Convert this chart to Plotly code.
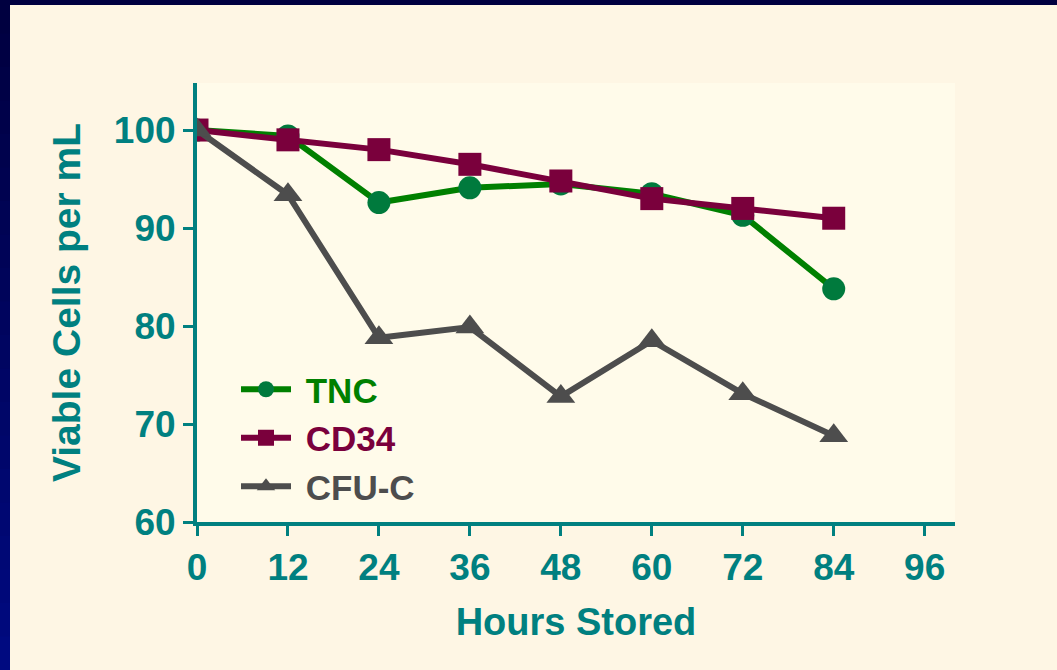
import plotly.graph_objects as go

# Storage time points (hours)
hours = [0, 12, 24, 36, 48, 60, 72, 84]

# Percent viable cells per mL for each population
tnc = [100.0, 99.4, 92.6, 94.1, 94.5, 93.5, 91.3, 83.8]
cd34 = [100.0, 99.0, 98.0, 96.5, 94.8, 93.0, 92.0, 91.0]
cfuc = [100.0, 93.4, 78.8, 79.9, 72.8, 78.5, 73.1, 68.8]

x_ticks = [0, 12, 24, 36, 48, 60, 72, 84, 96]
y_ticks = [60, 70, 80, 90, 100]

TEAL = "#008080"
W, H = 1057, 670
L, R, T, B = 197, 102, 83, 148
PW, PH = W - L - R, H - T - B

series = [
    ("TNC", tnc, "#008000", "#007A3D", "circle", 23),
    ("CD34", cd34, "#7A003C", "#7A003C", "square", 23),
    ("CFU-C", cfuc, "#4D4D4D", "#4D4D4D", "triangle-up", 25),
]

fig = go.Figure()
for name, vals, lc, mc, sym, size in series:
    fig.add_trace(go.Scatter(
        x=hours, y=vals, mode="lines+markers",
        name=f"<span style='color:{lc}'> {name}</span>",
        line=dict(color=lc, width=6),
        marker=dict(color=mc, symbol=sym, size=size, line=dict(width=0)),
    ))


def px_x(p):
    return (p - L) / PW


def px_y(p):
    return (H - B - p) / PH


# Navy frame along the top and left edges, darker at the top
shapes = [dict(type="rect", xref="paper", yref="paper", layer="above",
               x0=px_x(0), x1=px_x(W), y0=px_y(5), y1=px_y(0),
               fillcolor="#000040", line=dict(width=0))]
n = 20
for i in range(n):
    t = i / (n - 1)
    g = int(0x0A * t)
    b = int(0x40 + (0x80 - 0x40) * t)
    shapes.append(dict(type="rect", xref="paper", yref="paper", layer="above",
                       x0=px_x(0), x1=px_x(10),
                       y0=px_y(min(H, H * (i + 1) / n + 2)), y1=px_y(H * i / n),
                       fillcolor=f"rgb(0,{g},{b})", line=dict(width=0)))

fig.update_layout(
    width=W, height=H,
    margin=dict(l=L, r=R, t=T, b=B, pad=0),
    paper_bgcolor="#FEF6E4",
    plot_bgcolor="#FFFBEA",
    font=dict(family="Liberation Sans, Arial, sans-serif", color=TEAL, size=36),
    showlegend=True,
    legend=dict(x=px_x(236), y=px_y(360), xanchor="left", yanchor="top",
                bgcolor="rgba(0,0,0,0)", font=dict(size=35, weight="bold"),
                itemwidth=50, tracegroupgap=0, itemsizing="trace"),
    shapes=shapes,
    xaxis=dict(
        range=[0, 100], tickvals=x_ticks, ticktext=[str(v) for v in x_ticks],
        showgrid=False, zeroline=False, showline=True, linecolor=TEAL, linewidth=4,
        ticks="outside", ticklen=10, tickwidth=3, tickcolor=TEAL,
        tickfont=dict(size=37, color=TEAL, weight="bold"),
        title=dict(text="<b>Hours Stored</b>", font=dict(size=38, color=TEAL), standoff=22),
    ),
    yaxis=dict(
        range=[60, 104.8], tickvals=y_ticks, ticktext=[str(v) for v in y_ticks],
        showgrid=False, zeroline=False, showline=True, linecolor=TEAL, linewidth=4,
        ticks="outside", ticklen=10, tickwidth=3, tickcolor=TEAL,
        tickfont=dict(size=37, color=TEAL, weight="bold"),
        title=dict(text="<b>Viable Cells per mL</b>", font=dict(size=39, color=TEAL), standoff=22),
    ),
)

fig.write_html("out.html")
